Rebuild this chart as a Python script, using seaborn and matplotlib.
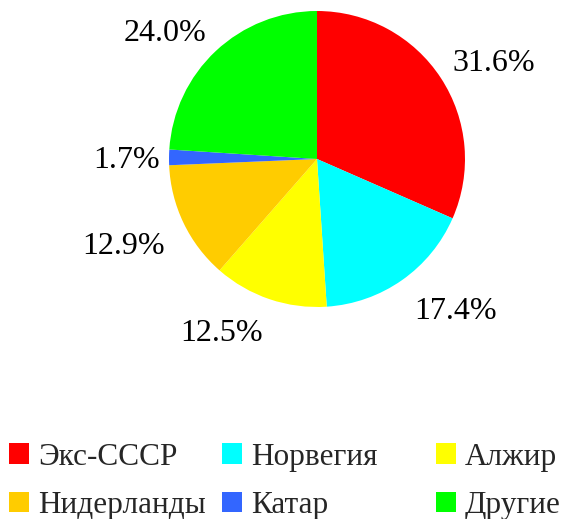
import matplotlib
matplotlib.use("Agg")
import numpy as np
import matplotlib.pyplot as plt
from matplotlib.patches import Patch
import seaborn as sns

sns.set_theme(style="white")
plt.rcParams["font.family"] = ["Liberation Serif", "DejaVu Serif"]

# данные
strany = ["Экс-СССР", "Норвегия", "Алжир", "Нидерланды", "Катар", "Другие"]
doli = [31.6, 17.4, 12.5, 12.9, 1.7, 24.0]
cveta = ["#FF0000", "#00FFFF", "#FFFF00", "#FFCC00", "#3366FF", "#00FF00"]

FS = 23
FS_LEG = 22.5

fig = plt.figure(figsize=(5.62, 5.19), dpi=100)
ax = fig.add_axes([0.3007, 0.4085, 0.5267, 0.5703])

wedges, _ = ax.pie(doli, colors=cveta, startangle=90, counterclock=False,
                   radius=1.0, wedgeprops={"linewidth": 0})
ax.set_xlim(-1, 1)
ax.set_ylim(-1, 1)
ax.set_aspect("equal")

# подписи снаружи, выравнивание по квадранту
for w, v in zip(wedges, doli):
    ang = np.deg2rad((w.theta1 + w.theta2) / 2)
    c, s = np.cos(ang), np.sin(ang)
    ha = "left" if c > 0 else "right"
    if abs(s) < 0.2:
        va, r = "center_baseline", 1.06
    elif s > 0:
        va, r = "baseline", 1.09
    else:
        va, r = "top", 1.14
    ax.text(r * c, r * s, f"{v:.1f}%", ha=ha, va=va, fontsize=FS,
            color="black")

# легенда: три колонки по две строки
x0 = [9, 222, 436]
for k in range(3):
    idx = [k, k + 3]
    handles = [Patch(facecolor=cveta[i], edgecolor="none") for i in idx]
    labels = [strany[i] for i in idx]
    fig.legend(handles, labels, ncol=1, loc="lower left",
               bbox_to_anchor=(x0[k] / 562, -1 / 519),
               frameon=False, fontsize=FS_LEG, handlelength=0.64,
               handleheight=0.64, handletextpad=0.28, labelspacing=0.62,
               borderpad=0.0, borderaxespad=0.0)

fig.savefig("out.png", dpi=100)
